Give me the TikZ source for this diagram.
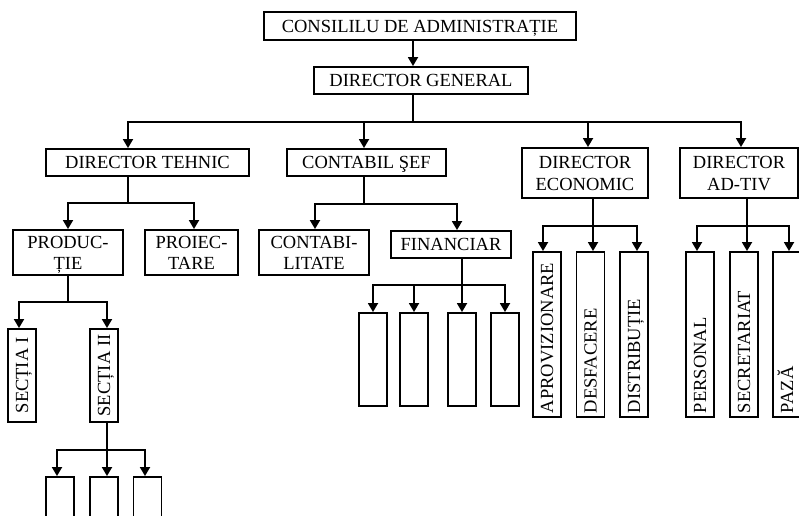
\documentclass[tikz,border=0pt]{standalone}
\usepackage{fontspec}
\setmainfont{Liberation Serif}
\usetikzlibrary{arrows.meta}
\newcommand\orgfont{\fontsize{18.5}{21.5}\selectfont}
\begin{document}
\begin{tikzpicture}[x=1pt,y=-1pt,
  frame/.style={draw, line width=1.9pt, inner sep=0pt},
  one/.style={frame, font=\orgfont, text height=12.25pt, text depth=0pt},
  two/.style={frame, font=\orgfont, align=center, text height=34.5pt, text depth=0pt},
  blank/.style={frame, minimum width=28pt},
  vlong/.style={frame, rotate=90, font=\orgfont, minimum height=28pt,
    minimum width=165pt, text width=157pt, align=left,
    text height=12.25pt, text depth=0pt},
  vshort/.style={frame, rotate=90, font=\orgfont, minimum height=28pt,
    minimum width=93pt, text height=12.25pt, text depth=0pt},
  link/.style={line width=1.8pt},
  arr/.style={line width=1.8pt, -{Triangle[width=10pt,length=9pt]}}]
\useasboundingbox (0,0) rectangle (799,515);
\clip (0,0) rectangle (799,515);

% management levels
\node[one, minimum width=312pt, minimum height=28pt] (cons) at (420,26) {CONSILILU DE ADMINISTRAȚIE};
\node[one, minimum width=214pt, minimum height=27pt] (dg) at (421,80.5) {DIRECTOR GENERAL};
\node[one, minimum width=203pt, minimum height=27pt] (dt) at (147.5,162.5) {DIRECTOR TEHNIC};
\node[one, minimum width=159pt, minimum height=27pt] (cs) at (366.5,162.5) {CONTABIL ŞEF};
\node[two, minimum width=126pt, minimum height=50pt] (de) at (585,173) {DIRECTOR\\ECONOMIC};
\node[two, minimum width=118pt, minimum height=50pt] (da) at (739,173) {DIRECTOR\\AD-TIV};

% departments
\node[two, minimum width=110pt, minimum height=45pt] (prod) at (68,252.5) {PRODUC-\\ȚIE};
\node[two, minimum width=93pt, minimum height=45pt] (proi) at (191.5,252.5) {PROIEC-\\TARE};
\node[two, minimum width=110pt, minimum height=45pt] (ctb) at (314,252.5) {CONTABI-\\LITATE};
\node[one, minimum width=120pt, minimum height=27pt] (fin) at (451,244.5) {FINANCIAR};

% units under FINANCIAR
\node[blank, minimum height=93pt] (f1) at (373,359.5) {};
\node[blank, minimum height=93pt] (f2) at (414,359.5) {};
\node[blank, minimum height=93pt] (f3) at (462,359.5) {};
\node[blank, minimum height=93pt] (f4) at (505,359.5) {};

% economic and administrative services
\node[vlong] (aprov) at (547,334.5) {APROVIZIONARE};
\node[vlong] (desf) at (590.5,334.5) {DESFACERE};
\node[vlong] (distr) at (634,334.5) {DISTRIBUȚIE};
\node[vlong] (pers) at (700,334.5) {PERSONAL};
\node[vlong] (secr) at (744,334.5) {SECRETARIAT};
\node[vlong] (paza) at (787,334.5) {PAZĂ};

% production sections
\node[vshort] (s1) at (22,375.5) {SECȚIA I};
\node[vshort] (s2) at (104,375.5) {SECȚIA II};
\node[blank, minimum height=53pt] (b1) at (60,503.5) {};
\node[blank, minimum height=53pt] (b2) at (104,503.5) {};
\node[blank, minimum height=53pt] (b3) at (147.5,503.5) {};

% junctions and branch positions
\coordinate (J1) at (413,122);
\coordinate (J2) at (128,203);
\coordinate (J3) at (364,204);
\coordinate (J4) at (462,285);
\coordinate (J5) at (593,226);
\coordinate (J6) at (747,226);
\coordinate (J7) at (68,302);
\coordinate (J8) at (107,450);
\coordinate (xdt) at (128,0);
\coordinate (xcs) at (364,0);
\coordinate (xde) at (588,0);
\coordinate (xda) at (741,0);
\coordinate (xproi) at (194,0);
\coordinate (xctb) at (315,0);
\coordinate (xfin) at (457,0);
\coordinate (xap) at (543,0);
\coordinate (xdi) at (637,0);
\coordinate (xpe) at (697,0);
\coordinate (xpa) at (789,0);
\coordinate (xs1) at (19,0);
\coordinate (xb1) at (57,0);
\coordinate (xb3) at (145,0);

% connectors
\draw[arr] ([xshift=-7pt]cons.south) -- ([xshift=-8pt]dg.north);
\draw[link] (J1 |- dg.south) -- (J1);
\draw[arr] (J1) -| (xdt |- dt.north);
\draw[arr] (J1) -| (xcs |- cs.north);
\draw[arr] (J1) -| (xde |- de.north);
\draw[arr] (J1) -| (xda |- da.north);

\draw[link] (J2 |- dt.south) -- (J2);
\draw[arr] (J2) -| (prod.north);
\draw[arr] (J2) -| (xproi |- proi.north);

\draw[link] (J3 |- cs.south) -- (J3);
\draw[arr] (J3) -| (xctb |- ctb.north);
\draw[arr] (J3) -| (xfin |- fin.north);

\draw[link] (J4 |- fin.south) -- (J4);
\draw[arr] (J4) -| (f1.north);
\draw[arr] (J4) -| (f2.north);
\draw[arr] (J4) -- (f3.north);
\draw[arr] (J4) -| (f4.north);

\draw[link] (J5 |- de.south) -- (J5);
\draw[arr] (J5) -| (xap |- aprov.east);
\draw[arr] (J5) -- (J5 |- desf.east);
\draw[arr] (J5) -| (xdi |- distr.east);

\draw[link] (J6 |- da.south) -- (J6);
\draw[arr] (J6) -| (xpe |- pers.east);
\draw[arr] (J6) -- (J6 |- secr.east);
\draw[arr] (J6) -| (xpa |- paza.east);

\draw[link] (J7 |- prod.south) -- (J7);
\draw[arr] (J7) -| (xs1 |- s1.east);
\draw[arr] (J7) -| (J8 |- s2.east);

\draw[link] (J8 |- s2.west) -- (J8);
\draw[arr] (J8) -| (xb1 |- b1.north);
\draw[arr] (J8) -- (J8 |- b2.north);
\draw[arr] (J8) -| (xb3 |- b3.north);
\end{tikzpicture}
\end{document}
